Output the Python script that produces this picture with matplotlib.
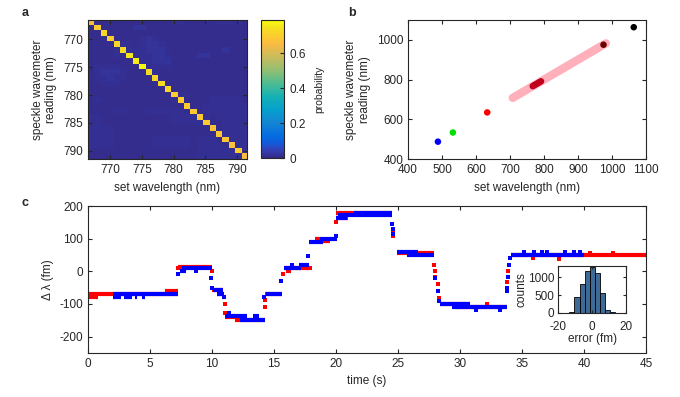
import numpy as np
import matplotlib
matplotlib.use('Agg')
import matplotlib.pyplot as plt
from matplotlib.colors import LinearSegmentedColormap

plt.rcParams['font.family'] = ['Liberation Sans', 'DejaVu Sans']
plt.rcParams['font.size'] = 8.5
plt.rcParams['axes.unicode_minus'] = False
plt.rcParams['text.color'] = '#262626'
plt.rcParams['axes.labelcolor'] = '#262626'
plt.rcParams['xtick.color'] = '#262626'
plt.rcParams['ytick.color'] = '#262626'
plt.rcParams['axes.edgecolor'] = '#262626'
plt.rcParams['axes.linewidth'] = 0.8
plt.rcParams['xtick.direction'] = 'in'
plt.rcParams['ytick.direction'] = 'in'
plt.rcParams['xtick.top'] = True
plt.rcParams['ytick.right'] = True
plt.rcParams['xtick.major.size'] = 3
plt.rcParams['ytick.major.size'] = 3

# ---- panel a: confusion matrix 767..791 nm
set_nm_a = np.arange(767, 792)
diag_prob = [0.66, 0.70, 0.72, 0.70, 0.72, 0.73, 0.75, 0.76, 0.79, 0.74,
             0.72, 0.73, 0.72, 0.70, 0.70, 0.70, 0.69, 0.69, 0.70, 0.68,
             0.69, 0.68, 0.67, 0.70, 0.66]
# off-diagonal level per cell, in units of 0.007
offdiag_rows = [
    "0111111111111221111222221",
    "1011111331111111111111111",
    "1101111111111111111111111",
    "1120111123211111111111111",
    "1111022123321111111111111",
    "1111202223331111111113111",
    "1111210222332111133111111",
    "1111111022333111111111111",
    "1222211102222111111111111",
    "1233321110211111111111111",
    "1223221111011111111111111",
    "1122211111101111111111111",
    "1111111111110111111111111",
    "1111111111111022111111111",
    "1211111111111201111222221",
    "1111111111111110112222222",
    "1111221112222221012222222",
    "2211111111111222202122222",
    "2211111111111222220112222",
    "2222111111111111111012222",
    "2222111111111111111102222",
    "2222111111222222122210222",
    "2222111111222222122221022",
    "1111111111111111122222202",
    "1111111111111111122222220",
]

# ---- panel b
b_set = [488, 532, 633, 767, 771, 775, 779, 783, 787, 791, 975, 1064]
b_read = [488, 534, 635, 767, 771, 775, 779, 783, 787, 791, 975, 1063]
b_colors = ['#0000ff', '#00e000', '#ff0000', '#c0001a', '#c0001a', '#c0001a',
            '#c0001a', '#c0001a', '#c0001a', '#c0001a', '#6a0000', '#000000']
band_nm = [708, 982]

# ---- panel c: plateaus (t_start, t_end, value) and single points
red_steps = [(0.0, 7.3, -70), (0.0, 0.8, -78), (6.2, 7.3, -60), (7.3, 10.0, 12),
             (10.0, 10.9, -58), (10.4, 11.0, -70), (11.1, 12.0, -140),
             (11.9, 14.3, -150), (14.3, 15.7, -70), (15.8, 17.9, 10),
             (16.0, 16.4, 0), (18.3, 18.8, 100), (18.8, 19.5, 92),
             (20.0, 24.5, 178), (20.0, 21.0, 162), (24.9, 27.9, 55),
             (28.4, 30.8, -100), (29.6, 33.8, -108), (34.1, 45.0, 50)]
blue_steps = [(2.0, 7.3, -70), (2.0, 2.7, -79), (2.9, 3.6, -79), (3.8, 4.0, -79),
              (4.4, 4.6, -79), (7.4, 7.9, 0), (7.6, 10.0, 10), (10.1, 10.9, -58),
              (10.4, 11.0, -70), (11.1, 12.8, -138), (12.3, 14.3, -149),
              (13.3, 13.8, -138), (14.4, 15.7, -70), (15.8, 17.2, 10),
              (17.0, 17.8, 20), (17.8, 19.0, 90), (18.7, 20.1, 100),
              (20.0, 20.9, 162), (20.2, 24.5, 172), (21.5, 24.5, 180),
              (24.9, 26.6, 60), (25.7, 27.9, 50), (28.4, 30.8, -100),
              (29.4, 33.8, -110), (34.1, 40.0, 50)]
red_pts_t = [7.3, 10.0, 11.05, 11.1, 14.3, 14.3, 15.76, 17.9, 20.0, 24.6, 24.6,
             27.9, 28.0, 28.0, 28.2, 28.3, 32.2, 33.8, 33.9, 34.0, 35.9, 38.0,
             40.5, 42.3]
red_pts_v = [9, 0, -100, -128, -88, -110, -9, 10, 150, 108, 120,
             18, 0, -17, -40, -81, -100, -32, 0, 40, 40, 38,
             55, 55]
blue_pts_t = [7.3, 8.7, 9.9, 10.0, 11.0, 11.4, 14.2, 15.6, 16.5, 17.77, 20.0,
              24.5, 24.6, 24.6, 28.0, 28.2, 28.3, 31.3, 33.2, 33.8, 33.8, 33.9,
              33.95, 34.0, 35.2, 36.0, 36.6, 37.0, 38.5, 39.2, 39.7]
blue_pts_v = [-9, 0, -20, -50, -80, -128, -80, -29, 20, 48, 109,
              146, 130, 115, -19, -60, -90, -118, -118, -61, -50, -17,
              19, 40, 58, 58, 58, 58, 58, 58, 58]

# inset histogram
err_centers = [-15, -12, -9, -6, -3, 0, 3, 6, 9, 12, 15]
err_counts = [5, 28, 450, 805, 1185, 1295, 1110, 555, 93, 28, 5]

# parula-like colormap
parula = LinearSegmentedColormap.from_list('parula', [
    (0.0, (0.2081, 0.1663, 0.5292)), (4/63, (0.1959, 0.2645, 0.7279)),
    (7/63, (0.0591, 0.3598, 0.8683)), (10/63, (0.0165, 0.4266, 0.8786)),
    (16/63, (0.0793, 0.5200, 0.8312)), (22/63, (0.0239, 0.6287, 0.8038)),
    (28/63, (0.0843, 0.6928, 0.7062)), (34/63, (0.3022, 0.7376, 0.5712)),
    (40/63, (0.5709, 0.7485, 0.4494)), (46/63, (0.7858, 0.7356, 0.3633)),
    (52/63, (0.9739, 0.7314, 0.2666)), (55/63, (0.9955, 0.7861, 0.1967)),
    (59/63, (0.9626, 0.8705, 0.1309)), (1.0, (0.9763, 0.9831, 0.0538))])

fig = plt.figure(figsize=(6.8, 3.97), dpi=100)

# ---- a
prob = np.array([[int(c) * 0.007 for c in row] for row in offdiag_rows])
prob[np.arange(25), np.arange(25)] = diag_prob
ax_a = fig.add_axes([0.129, 0.599, 0.234, 0.351])
im = ax_a.imshow(prob, cmap=parula, vmin=0, vmax=max(diag_prob), aspect='auto',
                 interpolation='nearest',
                 extent=[set_nm_a[0] - 0.5, set_nm_a[-1] + 0.5,
                         set_nm_a[-1] + 0.5, set_nm_a[0] - 0.5])
ax_a.set_xticks([770, 775, 780, 785, 790])
ax_a.set_yticks([770, 775, 780, 785, 790])
ax_a.set_xlabel('set wavelength (nm)')
ax_a.set_ylabel('speckle wavemeter\nreading (nm)')
cax = fig.add_axes([0.384, 0.602, 0.034, 0.348])
cb = fig.colorbar(im, cax=cax, ticks=[0, 0.2, 0.4, 0.6])
cb.ax.set_yticklabels(['0', '0.2', '0.4', '0.6'])
cb.ax.tick_params(direction='in', length=3, right=True, left=False)
cb.outline.set_linewidth(0.8)
cb.set_label('probability', fontsize=7.5, labelpad=6)

# ---- b
ax_b = fig.add_axes([0.600, 0.599, 0.350, 0.351])
ax_b.plot(band_nm, band_nm, color='#ffb0bb', lw=6, solid_capstyle='round', zorder=1)
ax_b.scatter(b_set, b_read, c=b_colors, s=22, zorder=2, linewidths=0)
ax_b.set_xlim(400, 1100)
ax_b.set_ylim(400, 1100)
ax_b.set_xticks(range(400, 1101, 100))
ax_b.set_yticks([400, 600, 800, 1000])
ax_b.set_xlabel('set wavelength (nm)')
ax_b.set_ylabel('speckle wavemeter\nreading (nm)')

# ---- c
ax_c = fig.add_axes([0.129, 0.111, 0.821, 0.370])
for t0, t1, v in red_steps:
    ax_c.hlines(v, t0, t1, color='#ff0000', lw=3, zorder=2)
ax_c.scatter(red_pts_t, red_pts_v, marker='s', s=6, color='#ff0000', linewidths=0, zorder=2)
for t0, t1, v in blue_steps:
    ax_c.hlines(v, t0, t1, color='#0000ff', lw=3, zorder=3)
ax_c.scatter(blue_pts_t, blue_pts_v, marker='s', s=6, color='#0000ff', linewidths=0, zorder=3)
ax_c.set_xlim(0, 45)
ax_c.set_ylim(-250, 200)
ax_c.set_xticks(range(0, 46, 5))
ax_c.set_yticks([-200, -100, 0, 100, 200])
ax_c.set_xlabel('time (s)')
ax_c.set_ylabel('\u0394 \u03bb (fm)')

# inset
ax_i = fig.add_axes([0.821, 0.212, 0.100, 0.118])
ax_i.bar(err_centers, err_counts, width=3, color='#3d6a96', edgecolor='black', lw=0.6)
ax_i.set_xlim(-20, 20)
ax_i.set_ylim(0, 1320)
ax_i.set_xticks([-20, 0, 20])
ax_i.set_yticks([0, 500, 1000])
ax_i.tick_params(axis='x', length=2, pad=6)
ax_i.tick_params(axis='y', length=2, pad=3)
ax_i.set_xlabel('error (fm)', labelpad=0)
ax_i.set_ylabel('counts', labelpad=0)

fig.text(0.032, 0.967, 'a', fontweight='bold', fontsize=9, va='center')
fig.text(0.512, 0.967, 'b', fontweight='bold', fontsize=9, va='center')
fig.text(0.032, 0.489, 'c', fontweight='bold', fontsize=9, va='center')

fig.savefig('out.png', dpi=100)
